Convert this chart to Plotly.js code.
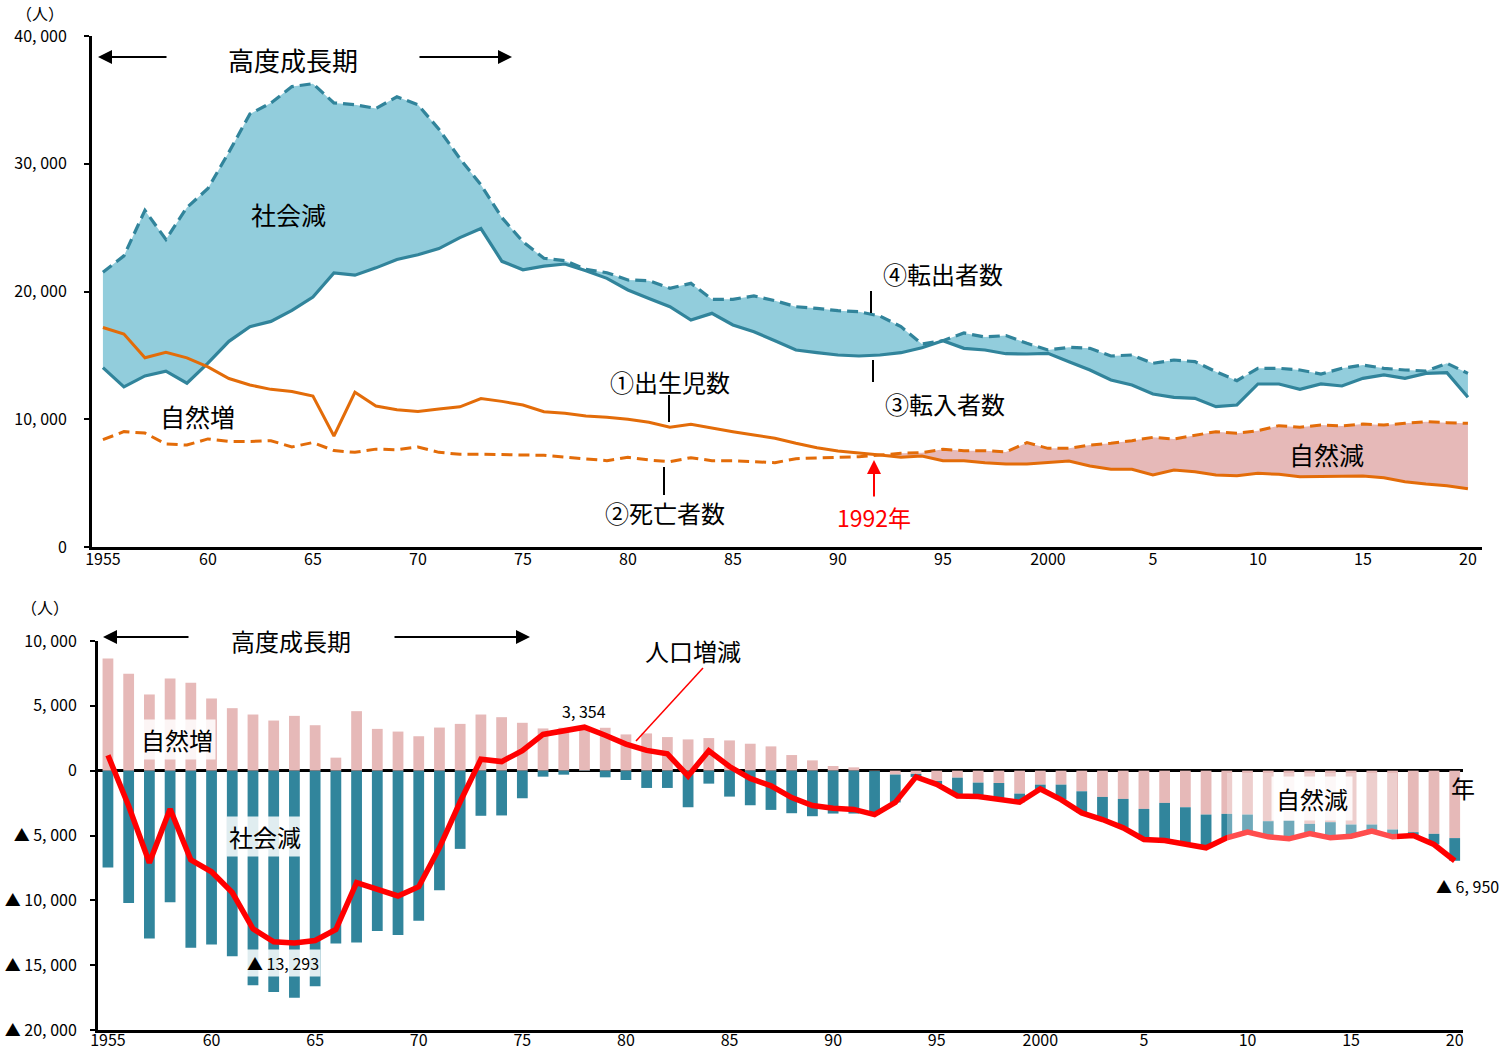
<!DOCTYPE html>
<html>
<head>
<meta charset="utf-8">
<script src="https://cdn.plot.ly/plotly-3.0.1.min.js"></script>
<style>html,body{margin:0;padding:0;background:#fff;}#chart{width:1508px;height:1053px;}</style>
</head>
<body>
<div id="chart"></div>
<script>
// ---- data ----
const years = [];
for (let y = 1955; y <= 2020; y++) years.push(y);

const tickYears = [1955,1960,1965,1970,1975,1980,1985,1990,1995,2000,2005,2010,2015,2020];
const tickYearLabels = ["1955","60","65","70","75","80","85","90","95","2000","5","10","15","20"];

// ① births
const births = [17180,16670,14810,15240,14810,14100,13190,12680,12340,12170,
  11820,8690,12110,11030,10740,10600,10800,10970,11620,11400,
  11116,10595,10464,10256,10151,9995,9760,9368,9603,9290,
  9029,8768,8507,8115,7776,7516,7385,7202,7019,7124,
  6758,6758,6602,6500,6497,6600,6731,6340,6079,6079,
  5635,6027,5896,5635,5583,5766,5688,5505,5505,5505,
  5557,5427,5114,4931,4801,4566];
// ② deaths
const deaths = [8400,9030,8920,8060,7980,8460,8260,8260,8320,7830,
  8180,7550,7410,7660,7610,7830,7410,7260,7260,7210,
  7202,7176,7019,6863,6758,7019,6810,6680,6993,6758,
  6758,6680,6602,6915,6967,7019,7072,7202,7332,7385,
  7646,7542,7542,7440,8168,7724,7724,7985,8115,8324,
  8585,8455,8768,9029,8898,9107,9499,9368,9551,9473,
  9629,9551,9681,9812,9733,9681];
// ③ in-migrants
const inMig = [14045,12535,13390,13760,12820,14390,16100,17240,17660,18520,
  19570,21450,21280,21850,22510,22880,23360,24220,24930,22360,
  21700,21990,22150,21630,21030,20120,19460,18810,17770,18290,
  17380,16850,16150,15420,15210,15030,14950,15030,15210,15600,
  16150,15550,15420,15130,15108,15161,14508,13856,13073,12682,
  11977,11716,11638,10985,11116,12760,12760,12343,12760,12604,
  13204,13465,13204,13595,13647,11716];
// ④ out-migrants
const outMig = [21510,22790,26350,24070,26580,28060,30910,33900,34760,36040,
  36270,34760,34620,34330,35240,34620,32700,30400,28350,25780,
  23900,22600,22410,21730,21470,20900,20850,20250,20640,19390,
  19390,19650,19280,18810,18680,18500,18420,18080,17250,15890,
  16150,16750,16440,16550,15944,15422,15630,15552,14952,15030,
  14378,14639,14508,13726,13021,13987,13987,13856,13543,13987,
  14248,13987,13856,13778,14378,13595];

// bottom chart
const natural = [8660,7474,5876,7113,6778,5567,4820,4330,3866,4227,
  3505,1005,4588,3222,3015,2655,3325,3608,4330,4124,
  3692,3256,3308,3380,3308,2795,2872,2590,2410,2513,
  2333,2077,1872,1205,795,359,256,-30,-300,-250,
  -795,-540,-923,-949,-1769,-1077,-1077,-1590,-2026,-2179,
  -2949,-2487,-2821,-3385,-3333,-3385,-3897,-3846,-4103,-3974,
  -4154,-4154,-4538,-4744,-4872,-5200];
const social = [-7474,-10206,-12938,-10155,-13660,-13402,-14304,-16546,-17062,-17520,
  -16624,-13325,-13247,-12371,-12680,-11572,-9227,-6031,-3479,-3454,
  -2128,-462,-308,-26,-513,-718,-1333,-1333,-2821,-1000,
  -2000,-2667,-3026,-3282,-3513,-3308,-3308,-3355,-2150,-230,
  -256,-1410,-1077,-1282,-667,-333,-1154,-1666,-1743,-2231,
  -2359,-2898,-2871,-2564,-1846,-1359,-1206,-1410,-743,-1205,
  -897,-513,-565,-256,-820,-1750];
const total = [1190,-2730,-7100,-2950,-6880,-7800,-9400,-12200,-13200,-13293,
  -13100,-12250,-8630,-9100,-9665,-8950,-5930,-2400,880,700,
  1540,2795,3030,3354,2730,2050,1560,1300,-410,1540,
  320,-600,-1170,-2077,-2690,-2900,-2990,-3385,-2450,-480,
  -1051,-1949,-2000,-2231,-2436,-1410,-2231,-3256,-3769,-4410,
  -5308,-5385,-5692,-5949,-5179,-4744,-5103,-5256,-4846,-5179,
  -5051,-4667,-5103,-5000,-5692,-6950];

const topYTicks = [0,10000,20000,30000,40000];
const topYLabels = ["0","10, 000","20, 000","30, 000","40, 000"];
const botYTicks = [-20000,-15000,-10000,-5000,0,5000,10000];
const botYLabels = ["▲ 20, 000","▲ 15, 000","▲ 10, 000","▲ 5, 000","0","5, 000","10, 000"];

// ---- styling ----
const W = 1508, H = 1053;
const px = x => x / W;
const py = y => 1 - y / H;
const TEAL = "#31849B", TEAL_FILL = "#92CDDC", ORANGE = "#E36C09", PINK = "#E6B9B8", BAR_TEAL = "#31859C";
const JP = "Noto Sans CJK JP, Noto Sans, sans-serif";
const crossIdx = years.indexOf(1992);

const traces = [
  // fills (top)
  {x: years, y: inMig, type: "scatter", mode: "lines", line: {width: 0, color: "rgba(0,0,0,0)"}, hoverinfo: "skip", xaxis: "x", yaxis: "y"},
  {x: years, y: outMig, type: "scatter", mode: "lines", fill: "tonexty", fillcolor: TEAL_FILL, line: {width: 0, color: "rgba(0,0,0,0)"}, hoverinfo: "skip", xaxis: "x", yaxis: "y"},
  {x: years.slice(crossIdx), y: births.slice(crossIdx), type: "scatter", mode: "lines", line: {width: 0, color: "rgba(0,0,0,0)"}, hoverinfo: "skip", xaxis: "x", yaxis: "y"},
  {x: years.slice(crossIdx), y: deaths.slice(crossIdx), type: "scatter", mode: "lines", fill: "tonexty", fillcolor: PINK, line: {width: 0, color: "rgba(0,0,0,0)"}, hoverinfo: "skip", xaxis: "x", yaxis: "y"},
  // lines (top)
  {x: years, y: inMig, type: "scatter", mode: "lines", name: "③転入者数", line: {color: TEAL, width: 3.2}, xaxis: "x", yaxis: "y"},
  {x: years, y: outMig, type: "scatter", mode: "lines", name: "④転出者数", line: {color: TEAL, width: 3.2, dash: "11px,6px"}, xaxis: "x", yaxis: "y"},
  {x: years, y: births, type: "scatter", mode: "lines", name: "①出生児数", line: {color: ORANGE, width: 3}, xaxis: "x", yaxis: "y"},
  {x: years, y: deaths, type: "scatter", mode: "lines", name: "②死亡者数", line: {color: ORANGE, width: 3, dash: "11px,6px"}, xaxis: "x", yaxis: "y"},
  // bottom bars
  {x: years, y: natural, type: "bar", name: "自然増減", marker: {color: PINK}, xaxis: "x2", yaxis: "y2"},
  {x: years, y: social, type: "bar", name: "社会増減", marker: {color: BAR_TEAL}, xaxis: "x2", yaxis: "y2"},
  {x: years, y: total, type: "scatter", mode: "lines", name: "人口増減", line: {color: "#FF0000", width: 5.5}, xaxis: "x2", yaxis: "y2"}
];

function txt(text, x, y, size, extra) {
  return Object.assign({text: text, x: px(x), y: py(y), xref: "paper", yref: "paper", showarrow: false,
    xanchor: "center", yanchor: "middle", font: {family: JP, size: size, color: "#000"}}, extra || {});
}
function arrow(hx, hy, tx, ty, color) {
  return {text: "", x: px(hx), y: py(hy), xref: "paper", yref: "paper", showarrow: true,
    ax: tx - hx, ay: ty - hy, axref: "pixel", ayref: "pixel", arrowhead: 2, arrowsize: 1.4,
    arrowwidth: 2, arrowcolor: color || "#000", standoff: 0, startstandoff: 0};
}
function seg(x0, y0, x1, y1, color, w) {
  return {type: "line", xref: "paper", yref: "paper", x0: px(x0), y0: py(y0), x1: px(x1), y1: py(y1),
    line: {color: color || "#000", width: w || 2}, layer: "above"};
}

const annotations = [
  txt("（人）", 40, 13, 16),
  txt("高度成長期", 293, 60, 26),
  arrow(98, 57, 168, 57), arrow(512, 57, 418, 57),
  txt("社会減", 288, 214, 25),
  txt("自然増", 198, 416, 25),
  txt("④転出者数", 943, 273, 24),
  txt("③転入者数", 945, 404, 24),
  txt("①出生児数", 670, 382, 24),
  txt("②死亡者数", 665, 512, 24),
  txt("1992年", 874, 517, 23, {font: {family: JP, size: 23, color: "#FF0000"}}),
  arrow(874, 460, 874, 498, "#FF0000"),
  txt("自然減", 1326, 454, 25),
  // bottom
  txt("（人）", 45, 607, 16),
  txt("高度成長期", 291, 640, 24),
  arrow(103, 637, 190, 637), arrow(530, 637, 393, 637),
  txt("人口増減", 693, 650, 24),
  txt("3, 354", 584, 711, 16),
  txt("自然増", 177, 739, 24, {bgcolor: "rgba(255,255,255,0.85)", borderpad: 2}),
  txt("社会減", 265, 836, 24, {bgcolor: "rgba(255,255,255,0.85)", borderpad: 2}),
  txt("▲ 13, 293", 283, 963, 16, {bgcolor: "rgba(255,255,255,0.85)", borderpad: 1}),
  txt("自然減", 1312, 798, 24, {bgcolor: "rgba(255,255,255,0.85)", borderpad: 4}),
  txt("年", 1463, 787, 24),
  txt("▲ 6, 950", 1467, 886, 16)
];

const shapes = [
  seg(871, 291, 871, 313), seg(873, 360, 873, 382),
  seg(669, 395, 669, 422), seg(664, 467, 664, 495),
  seg(703, 668, 636, 741, "#FF0000", 1.5),
  {type: "rect", xref: "paper", yref: "paper", x0: px(1227), x1: px(1397), y0: py(773), y1: py(852),
    fillcolor: "rgba(255,255,255,0.3)", line: {width: 0}, layer: "above"}
];

const tickFont = {family: JP, size: 16, color: "#000"};
const layout = {
  width: W, height: H,
  margin: {l: 0, r: 0, t: 0, b: 0},
  paper_bgcolor: "#fff", plot_bgcolor: "#fff",
  showlegend: false,
  font: {family: JP},
  barmode: "relative", bargap: 0.48,
  xaxis: {domain: [px(92), px(1482)], range: [1954.48, 2020.67], anchor: "y",
    tickvals: tickYears, ticktext: tickYearLabels, ticks: "", showgrid: false, zeroline: false,
    showline: true, linecolor: "#000", linewidth: 3, tickfont: tickFont, automargin: false, ticklabelstandoff: -4},
  yaxis: {domain: [py(547), py(36)], range: [0, 40000], anchor: "x",
    tickvals: topYTicks, ticktext: topYLabels, ticks: "outside", ticklen: 5, tickwidth: 2, tickcolor: "#000",
    showgrid: false, zeroline: false, showline: true, linecolor: "#000", linewidth: 3,
    tickfont: tickFont, automargin: false, ticklabelstandoff: 14},
  xaxis2: {domain: [px(98), px(1463)], range: [1954.52, 2020.4], anchor: "y2",
    tickvals: tickYears, ticktext: tickYearLabels, ticks: "", showgrid: false, zeroline: false,
    showline: true, linecolor: "#000", linewidth: 3, tickfont: tickFont, automargin: false, ticklabelstandoff: -6},
  yaxis2: {domain: [py(1030), py(641)], range: [-20000, 10000], anchor: "x2",
    tickvals: botYTicks, ticktext: botYLabels, ticks: "outside", ticklen: 5, tickwidth: 2, tickcolor: "#000",
    showgrid: false, zeroline: true, zerolinecolor: "#000", zerolinewidth: 3,
    showline: true, linecolor: "#000", linewidth: 3, tickfont: tickFont, automargin: false, ticklabelstandoff: 10},
  annotations: annotations,
  shapes: shapes
};

Plotly.newPlot("chart", traces, layout, {staticPlot: true, displayModeBar: false});
</script>
</body>
</html>
